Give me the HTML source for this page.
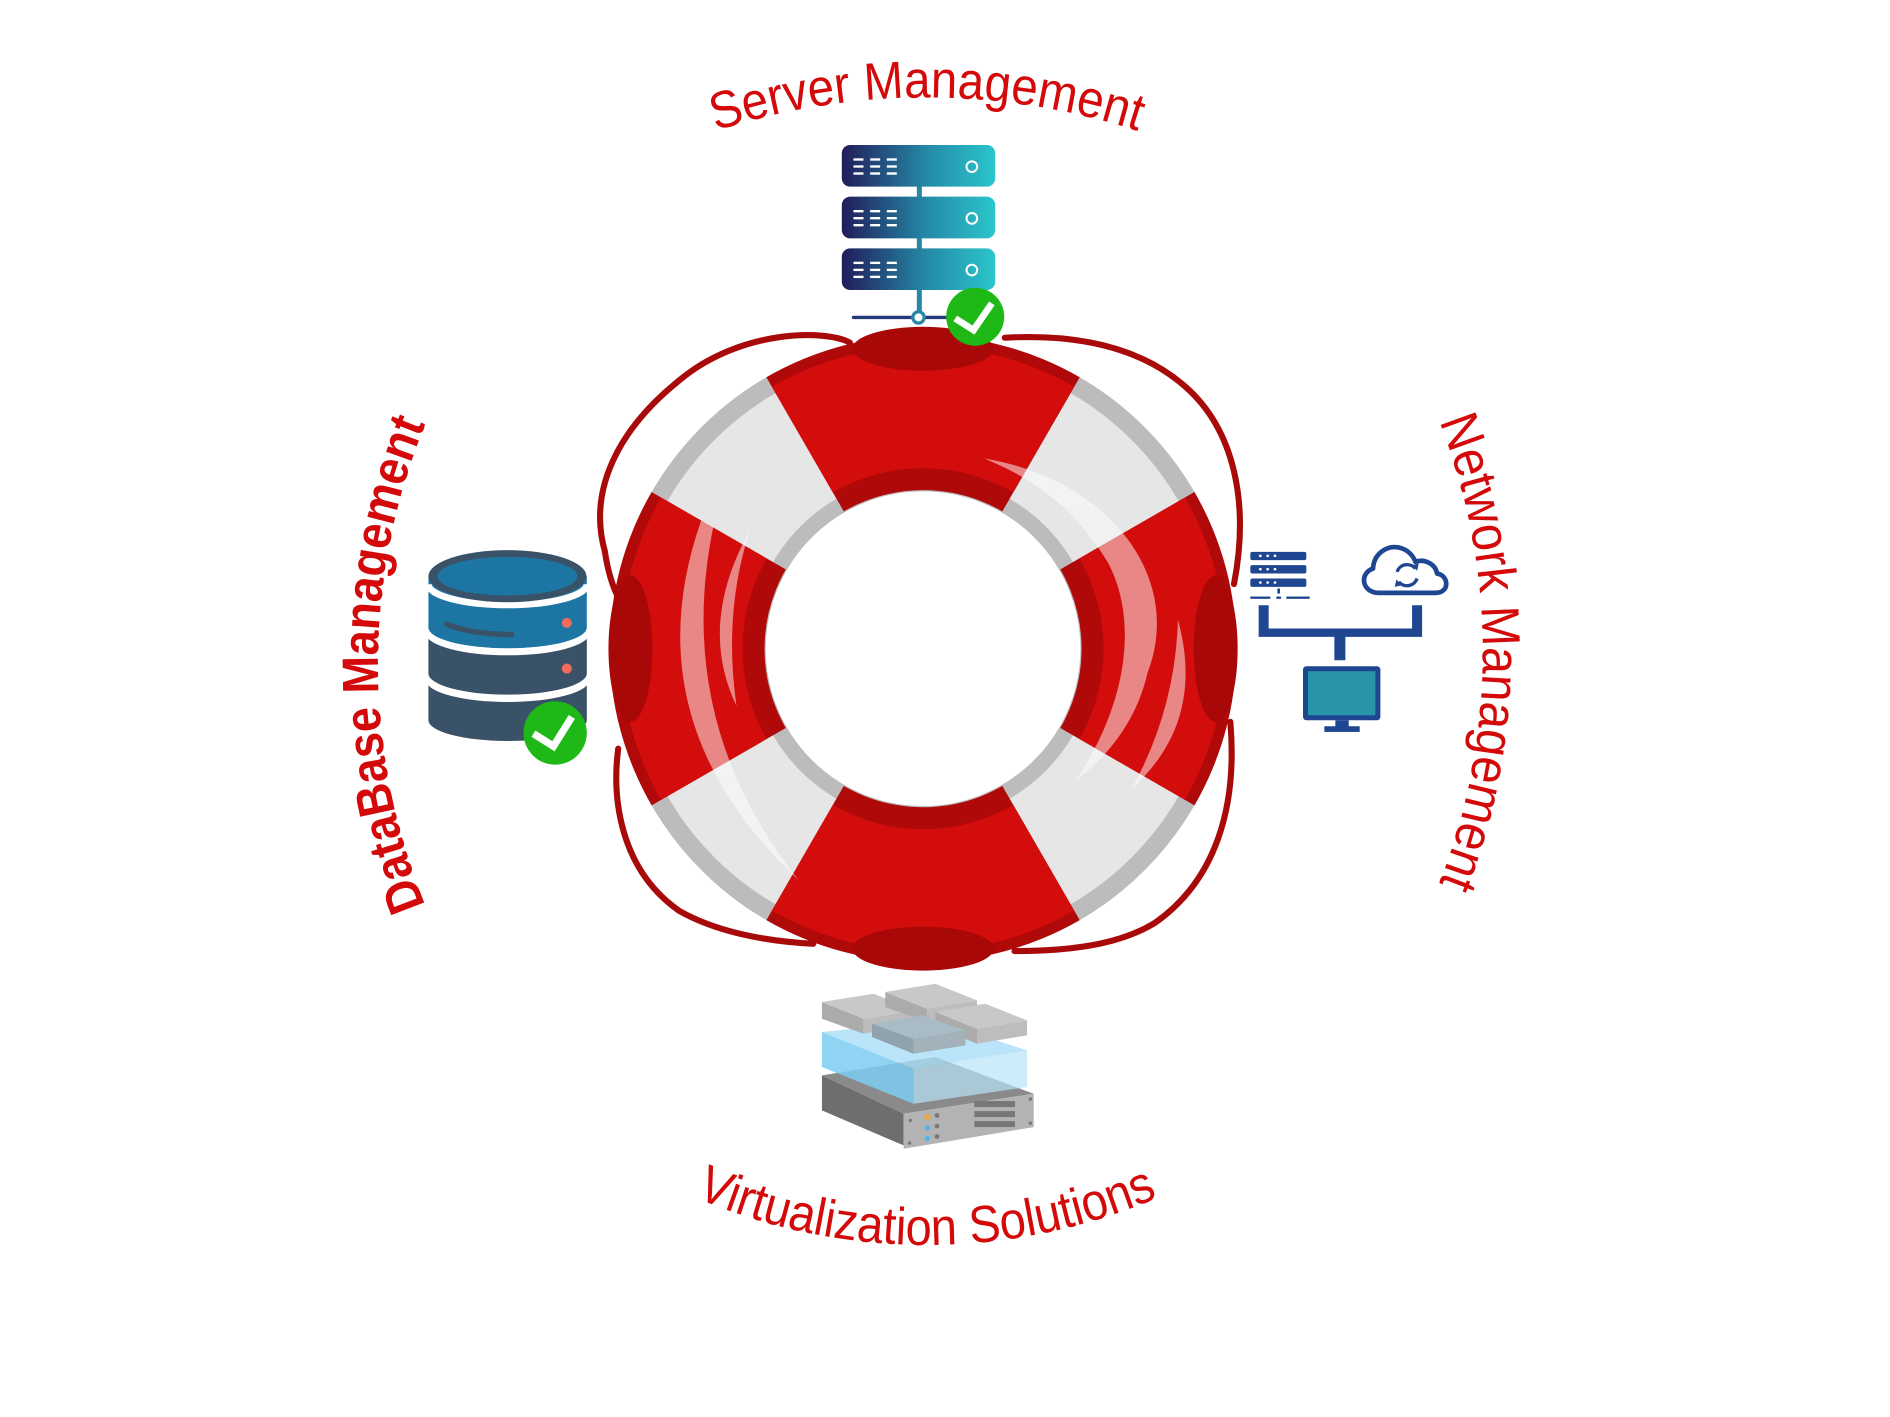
<!DOCTYPE html>
<html><head><meta charset="utf-8"><style>html,body{margin:0;padding:0;background:#fff}svg{display:block}</style></head>
<body>
<svg width="1890" height="1417" viewBox="0 0 1550 1162.1" xmlns="http://www.w3.org/2000/svg">
<defs>
<linearGradient id="sg" x1="0" x2="1" y1="0" y2="0"><stop offset="0" stop-color="#221c5a"/><stop offset="0.55" stop-color="#2489a6"/><stop offset="1" stop-color="#2bc6cc"/></linearGradient>
<clipPath id="rc">
<path d="M-128.5,-222.6 A257 257 0 0 1 128.5,-222.6 L64.5,-111.7 A129 129 0 0 0 -64.5,-111.7Z M222.6,-128.5 A257 257 0 0 1 222.6,128.5 L111.7,64.5 A129 129 0 0 0 111.7,-64.5Z M128.5,222.6 A257 257 0 0 1 -128.5,222.6 L-64.5,111.7 A129 129 0 0 0 64.5,111.7Z M-222.6,128.5 A257 257 0 0 1 -222.6,-128.5 L-111.7,-64.5 A129 129 0 0 0 -111.7,64.5Z"/>
</clipPath>
<path id="pt" d="M200,640 A560 560 0 0 1 1320,640"/>
<path id="pb" d="M279,540 A481 481 0 0 0 1241,540"/>
<path id="pl" d="M830,1065 A520 520 0 0 1 830,25"/>
<path id="pr" d="M696,15 A520 520 0 0 1 696,1055"/>
</defs>

<g font-family="'Liberation Sans Narrow','Liberation Sans',sans-serif" fill="#d40a0a" font-size="43">
<text><textPath href="#pt" startOffset="50%" text-anchor="middle" textLength="352" lengthAdjust="spacingAndGlyphs">Server Management</textPath></text>
<text><textPath href="#pb" startOffset="50%" text-anchor="middle" textLength="390" lengthAdjust="spacingAndGlyphs">Virtualization Solutions</textPath></text>
<text font-weight="bold" font-size="42"><textPath href="#pl" startOffset="50%" text-anchor="middle" textLength="405" lengthAdjust="spacingAndGlyphs">DataBase Management</textPath></text>
<text font-size="44"><textPath href="#pr" startOffset="50%" text-anchor="middle" textLength="388" lengthAdjust="spacingAndGlyphs">Network Management</textPath></text>
</g>

<!-- lifebuoy -->
<g transform="translate(757,532)">
<circle r="193" fill="none" stroke="#bcbcbc" stroke-width="128"/>
<circle r="192" fill="none" stroke="#e6e6e6" stroke-width="100"/>
<g clip-path="url(#rc)">
<circle r="200" fill="none" stroke="#b00909" stroke-width="140"/>
<circle r="198" fill="none" stroke="#d30c0c" stroke-width="100"/>
</g>
<ellipse cx="0" cy="-246" rx="58" ry="18" fill="#a80808"/>
<ellipse cx="0" cy="246" rx="58" ry="18" fill="#a80808"/>
<ellipse cx="-240" cy="0" rx="18" ry="60" fill="#a80808"/>
<ellipse cx="240" cy="0" rx="18" ry="60" fill="#a80808"/>
<g fill="#fff" opacity="0.5">
<path d="M-182,-105 Q-240,60 -102,190 Q-205,60 -172,-100 Z"/>
<path d="M-142,-97 Q-185,-20 -153,47 Q-164,-30 -142,-97Z"/>
<path d="M50,-156 C150,-140 215,-60 184,20 C175,60 150,90 125,108 C165,50 178,-20 152,-70 C125,-115 90,-140 50,-156Z"/>
<path d="M209,-24 Q232,60 171,115 Q207,50 209,-24Z"/>
</g>
<g fill="none" stroke="#a80a0a" stroke-width="5" stroke-linecap="round">
<path d="M-60,-251 C-80,-262 -150,-262 -200,-220 C-250,-180 -275,-130 -261,-80 C-258,-60 -253,-48 -250,-42"/>
<path d="M-250,82 C-255,120 -250,180 -200,215 C-170,232 -130,240 -90,242"/>
<path d="M67,-255 C120,-258 175,-250 215,-215 C255,-180 268,-120 255,-53"/>
<path d="M252,60 C258,130 240,190 190,225 C160,243 120,248 75,248"/>
</g>
</g>

<!-- server icon -->
<g transform="translate(689,106.6) scale(0.2735)">
<rect x="230" y="160" width="15" height="400" fill="#2787a4"/>
<rect x="5" y="45" width="460" height="125" rx="25" fill="url(#sg)"/>
<rect x="5" y="200" width="460" height="125" rx="25" fill="url(#sg)"/>
<rect x="5" y="355" width="460" height="125" rx="25" fill="url(#sg)"/>
<g fill="#fff">
<g id="dd"><rect x="40" y="85" width="30" height="7"/><rect x="90" y="85" width="30" height="7"/><rect x="140" y="85" width="30" height="7"/><rect x="40" y="106" width="30" height="7"/><rect x="90" y="106" width="30" height="7"/><rect x="140" y="106" width="30" height="7"/><rect x="40" y="127" width="30" height="7"/><rect x="90" y="127" width="30" height="7"/><rect x="140" y="127" width="30" height="7"/></g>
<use href="#dd" y="155"/><use href="#dd" y="310"/>
</g>
<g fill="none" stroke="#fff" stroke-width="6"><circle cx="395" cy="110" r="16"/><circle cx="395" cy="265" r="16"/><circle cx="395" cy="420" r="16"/></g>
<line x1="40" y1="562" x2="330" y2="562" stroke="#243a7a" stroke-width="10" stroke-linecap="round"/>
<circle cx="235" cy="562" r="17" fill="#fff" stroke="#2787a4" stroke-width="10"/>
<circle cx="405" cy="560" r="87" fill="#1eb916"/>
<path d="M345,565 L400,600 L455,520" fill="none" stroke="#fff" stroke-width="20"/>
</g>

<!-- database icon -->
<g transform="translate(344.5,443) scale(0.2735)">
<path d="M25,430 L25,540 A237 62 0 0 0 500,540 L500,430Z" fill="#3a5268"/>
<path d="M25,412 A237 62 0 0 0 500,412" fill="none" stroke="#fff" stroke-width="22"/>
<path d="M25,290 L25,400 A237 62 0 0 0 500,400 L500,290Z" fill="#3a5268"/>
<path d="M25,272 A237 62 0 0 0 500,272" fill="none" stroke="#fff" stroke-width="22"/>
<path d="M25,108 L25,262 A237 62 0 0 0 500,262 L500,108Z" fill="#1d75a3"/>
<path d="M25,132 A237 62 0 0 0 500,132" fill="none" stroke="#fff" stroke-width="20"/>
<ellipse cx="262" cy="108" rx="237" ry="78" fill="#3a5268"/>
<ellipse cx="262" cy="108" rx="210" ry="58" fill="#1d75a3"/>
<path d="M80,252 Q150,282 275,283" fill="none" stroke="#3a5268" stroke-width="16" stroke-linecap="round"/>
<circle cx="440" cy="248" r="15" fill="#f26b5b"/>
<circle cx="440" cy="385" r="15" fill="#f26b5b"/>
<circle cx="405" cy="578" r="95" fill="#1eb916"/>
<path d="M340,580 L400,618 L455,530" fill="none" stroke="#fff" stroke-width="22"/>
</g>

<!-- network icon -->
<g transform="translate(1025.4,443) scale(0.2735)" fill="#1f4690">
<rect x="0" y="35" width="168" height="25" rx="6"/><rect x="0" y="75" width="168" height="25" rx="6"/><rect x="0" y="115" width="168" height="25" rx="6"/>
<g fill="#fff"><circle cx="30" cy="47" r="4"/><circle cx="52" cy="47" r="4"/><circle cx="74" cy="47" r="4"/><circle cx="30" cy="87" r="4"/><circle cx="52" cy="87" r="4"/><circle cx="74" cy="87" r="4"/><circle cx="30" cy="127" r="4"/><circle cx="52" cy="127" r="4"/><circle cx="74" cy="127" r="4"/></g>
<rect x="0" y="169" width="60" height="7"/><rect x="78" y="169" width="14" height="7"/><rect x="108" y="169" width="70" height="7"/><rect x="81" y="145" width="8" height="15"/>
<path d="M25,195 H55 V265 H485 V195 H515 V290 H285 V360 H252 V290 H25Z"/>
<rect x="158" y="378" width="232" height="162" rx="10"/>
<rect x="173" y="393" width="202" height="132" fill="#2896a8"/>
<rect x="255" y="540" width="40" height="20"/><rect x="222" y="558" width="106" height="17"/>
<path d="M385,158 C335,158 325,100 368,85 C370,40 410,15 445,22 C470,27 488,45 495,65 C520,55 555,70 560,100 C595,105 600,158 555,158 Z" fill="none" stroke="#1f4690" stroke-width="14" stroke-linejoin="round"/>
<path d="M440,95 A32 32 0 0 1 495,85 M500,115 A32 32 0 0 1 445,125" fill="none" stroke="#1f4690" stroke-width="10"/>
<path d="M485,75 L505,70 L500,92Z M455,135 L433,140 L438,118Z"/>
</g>

<!-- virtualization icon -->
<g transform="translate(672.7,804) scale(0.2735)">
<polygon points="5,285 5,390 250,495 250,400" fill="#6e6e6e"/>
<polygon points="5,285 345,230 640,340 250,400" fill="#8a8a8a"/>
<polygon points="250,400 640,340 640,440 250,505" fill="#b3b3b3"/>
<g fill="#777"><rect x="462" y="362" width="122" height="18"/><rect x="462" y="392" width="122" height="18"/><rect x="462" y="422" width="122" height="18"/><circle cx="350" cy="405" r="7"/><circle cx="350" cy="437" r="7"/><circle cx="350" cy="468" r="7"/><circle cx="270" cy="420" r="5"/><circle cx="268" cy="488" r="5"/><circle cx="630" cy="356" r="5"/><circle cx="630" cy="428" r="5"/></g>
<circle cx="321" cy="410" r="8" fill="#f5a623"/><circle cx="321" cy="442" r="8" fill="#4ab8f0"/><circle cx="321" cy="474" r="8" fill="#4ab8f0"/>
<polygon points="5,155 5,260 280,370 280,265" fill="#7cccf2" opacity="0.85"/>
<polygon points="280,265 620,210 620,320 280,370" fill="#b8e2f6" opacity="0.7"/>
<polygon points="5,155 345,120 620,210 280,265" fill="#a8ddf7" opacity="0.8"/>
<polygon points="5,65 5,115 130,160 130,115" fill="#ababab"/><polygon points="5,65 160,40 285,90 130,115" fill="#c8c8c8"/><polygon points="130,115 285,90 285,130 130,160" fill="#bdbdbd"/>
<polygon points="195,35 195,80 320,125 320,85" fill="#ababab"/><polygon points="195,35 345,10 470,60 320,85" fill="#c8c8c8"/><polygon points="320,85 470,60 470,100 320,125" fill="#bdbdbd"/>
<polygon points="345,95 345,140 470,190 470,145" fill="#ababab"/><polygon points="345,95 495,70 620,120 470,145" fill="#c8c8c8"/><polygon points="470,145 620,120 620,165 470,190" fill="#bdbdbd"/>
<polygon points="155,130 155,170 280,220 280,175" fill="#8fa2ad"/><polygon points="155,130 305,105 435,150 280,175" fill="#a9bcc6"/><polygon points="280,175 435,150 435,195 280,220" fill="#a3b2ba"/>
</g>
</svg>
</body></html>
